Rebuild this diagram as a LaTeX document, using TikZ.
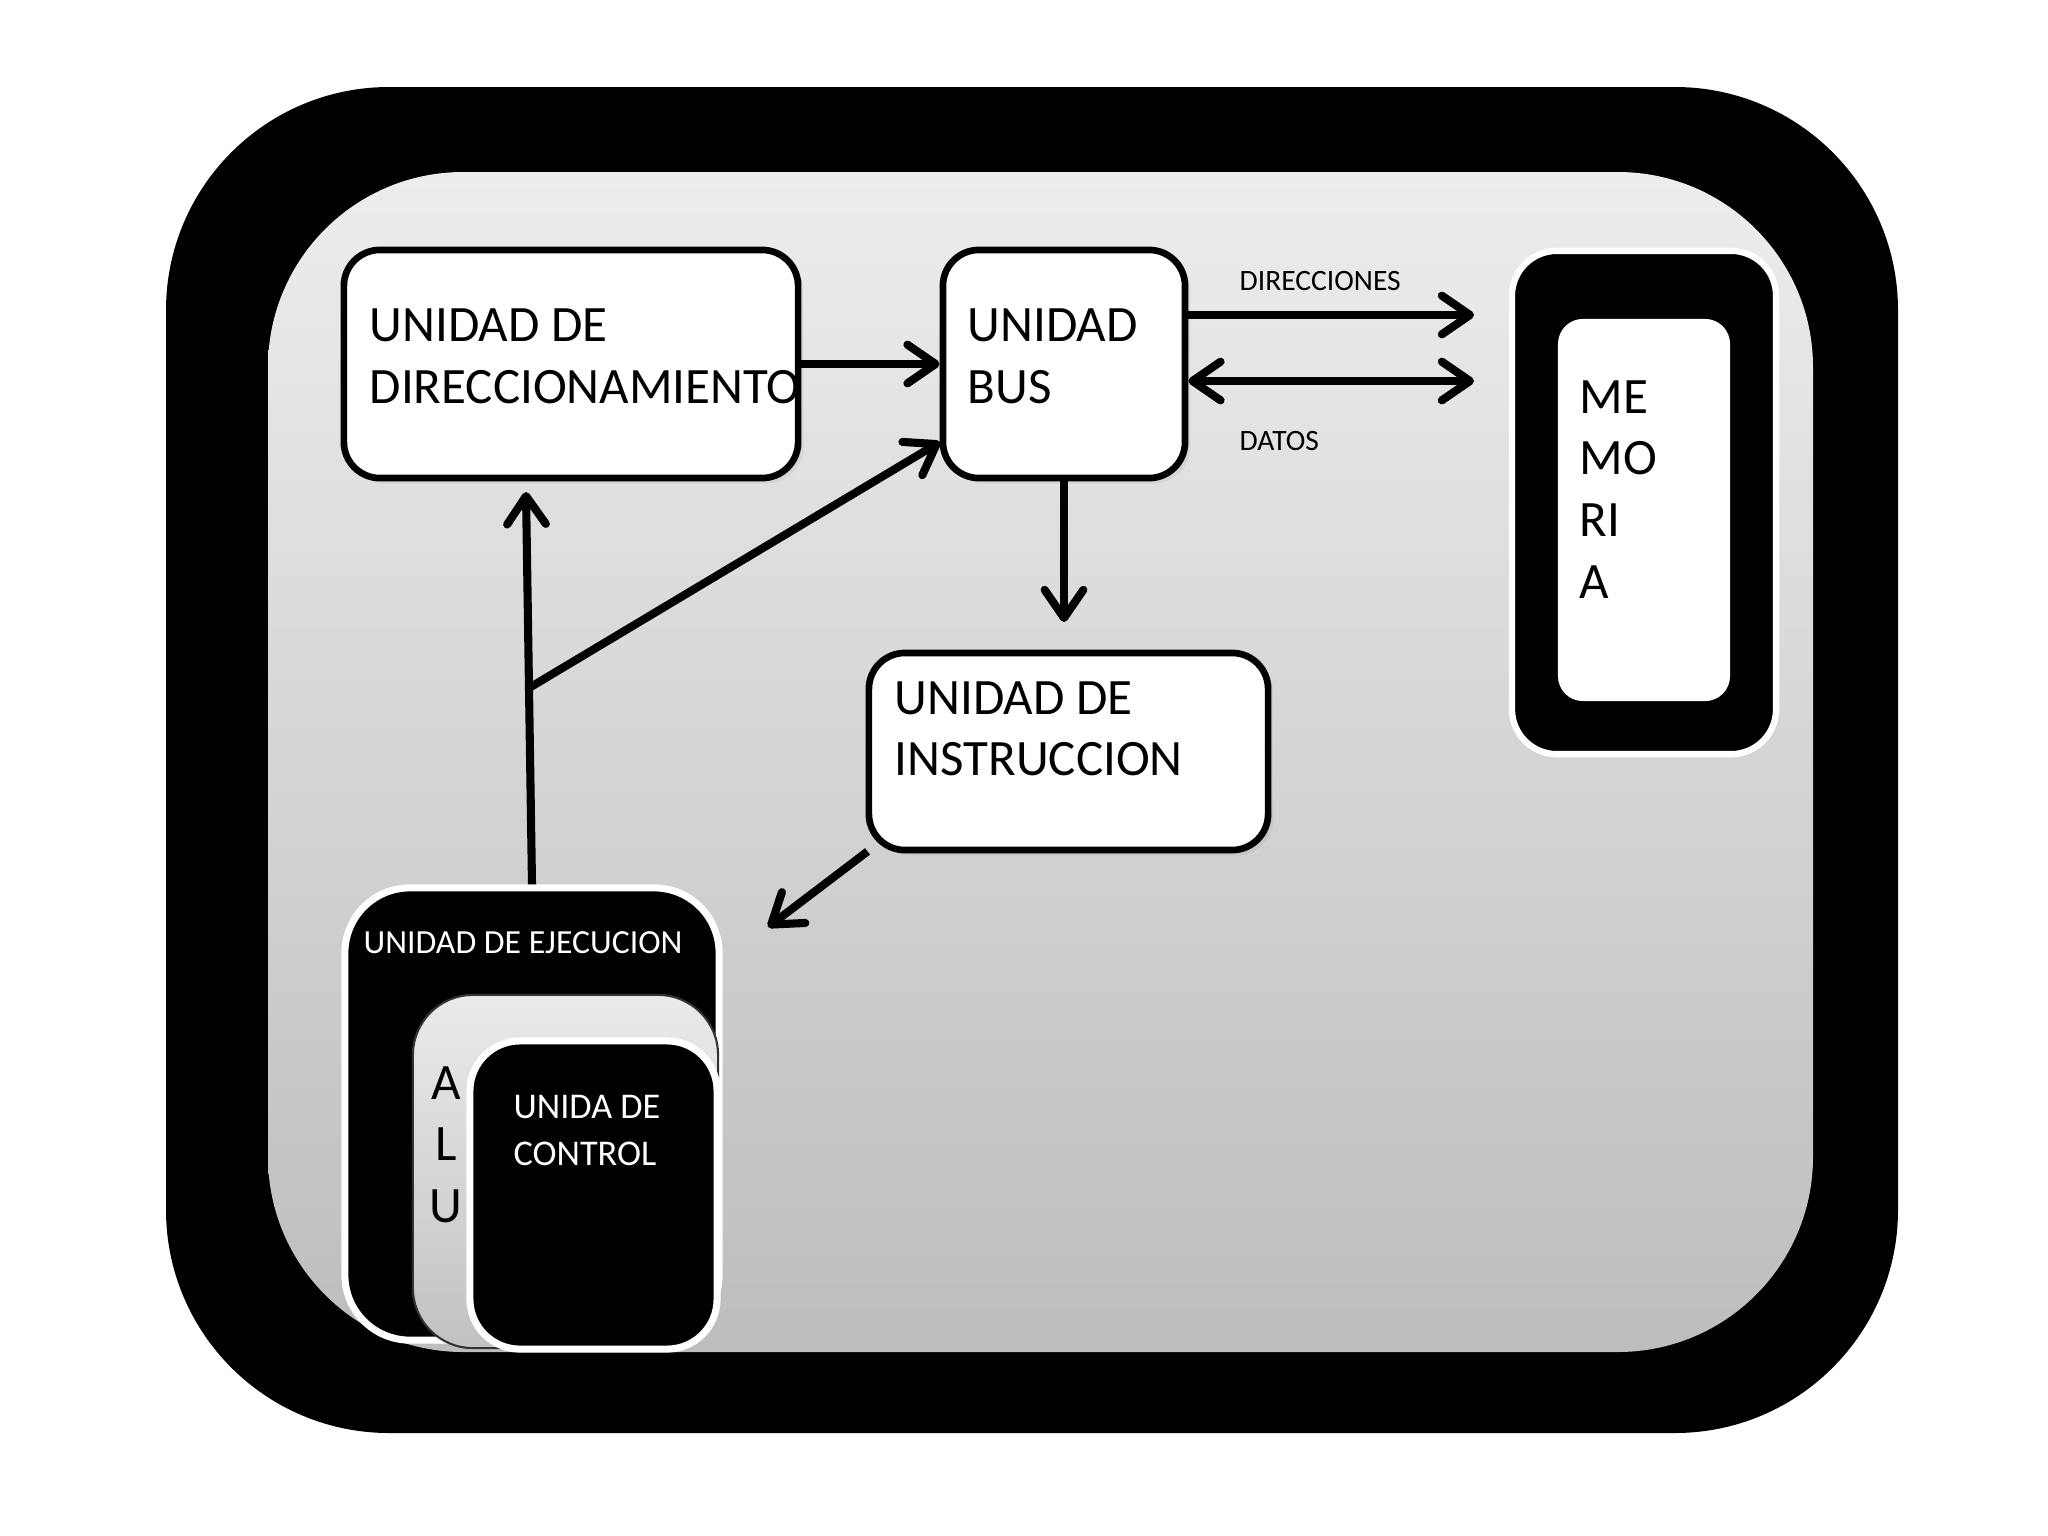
\documentclass[tikz,border=0pt]{standalone}
\usepackage{fontspec}
\setmainfont{Carlito}
\usetikzlibrary{arrows.meta, shadows}

\begin{document}
\begin{tikzpicture}[
    x=0.01cm, y=-0.01cm,
    unit/.style={rectangle, draw, line width=1.9pt, fill=white, rounded corners=0.36cm,
                 drop shadow={opacity=0.12, shadow xshift=1.5pt, shadow yshift=-1.5pt}},
    darkunit/.style={rectangle, draw=white, line width=2pt, fill=black},
    txt/.style={inner sep=0pt, anchor=base west, align=left, font=\fontsize{14.5}{17.35}\selectfont},
    small/.style={inner sep=0pt, anchor=base west, font=\fontsize{8.4}{10}\selectfont},
    arrow/.style={-{Straight Barb[length=8pt, width=11pt, line cap=round, line join=round]}, line width=2.3pt},
    dblarrow/.style={{Straight Barb[length=8pt, width=11pt, line cap=round, line join=round]}-{Straight Barb[length=8pt, width=11pt, line cap=round, line join=round]}, line width=2.3pt}
]
    \useasboundingbox (0,0) rectangle (2048,1536);

    % Frame
    \fill[black, rounded corners=2.23cm] (166,87) rectangle (1898,1433);
    \shade[top color=black!7, bottom color=black!26, rounded corners=1.95cm] (268,172) rectangle (1813,1352);

    % Units
    \node[unit, minimum width=4.54cm, minimum height=2.28cm] (direc) at (571,364) {};
    \node[unit, minimum width=2.42cm, minimum height=2.28cm] (bus) at (1064,364) {};
    \node[unit, minimum width=3.99cm, minimum height=1.97cm] (instr) at (1068.5,751.5) {};
    \node[darkunit, rounded corners=0.45cm, line width=1.8pt, minimum width=2.64cm, minimum height=5.03cm] (mem) at (1644,502.5) {};
    \node[rectangle, fill=white, rounded corners=0.25cm, minimum width=1.72cm, minimum height=3.82cm] (memin) at (1644,510) {};

    % Texts (base = last line)
    \node[txt] (directxt) at (369,403) {UNIDAD DE\\DIRECCIONAMIENTO};
    \node[txt] (bustxt) at (967,403) {UNIDAD\\BUS};
    \node[txt] (instrtxt) at (894,775) {UNIDAD DE\\INSTRUCCION};
    \node[txt, font=\fontsize{14.5}{17.5}\selectfont] (memtxt) at (1579,598) {ME\\MO\\RI\\A};
    \node[small] (dirlbl) at (1239,290) {DIRECCIONES};
    \node[small] (datlbl) at (1239,450) {DATOS};

    % Free ends
    \coordinate (dirtip) at (1474,315);
    \coordinate (dattip) at (1474,381);
    \coordinate (instrtip) at (1064,622);
    \coordinate (exectip) at (768,927);
    \coordinate (directip) at (526,492);
    \coordinate (fork) at (529,688);
    \coordinate (bustip) at (940,442);

    % Flow arrows
    \draw[arrow] (direc) -- (bus);
    \draw[arrow] (bus.east |- dirtip) -- (dirtip);
    \draw[dblarrow] (bus.east |- dattip) -- (dattip);
    \draw[arrow] (bus) -- (instrtip);
    \draw[arrow] ([xshift=0.02cm, yshift=0.02cm]instr.south west) -- (exectip);
    \draw[arrow] (fork) -- (bustip);

    % Execution unit
    \node[darkunit, rounded corners=0.65cm, minimum width=3.74cm, minimum height=4.52cm] (ejec) at (532,1114) {};
    \draw[arrow] (ejec.north) -- (directip);
    \node[rectangle, rounded corners=0.6cm, top color=black!8, bottom color=black!24, draw=black!80, line width=0.6pt,
          minimum width=3.05cm, minimum height=3.53cm] (alu) at (565.5,1171.5) {};
    \node[darkunit, rounded corners=0.5cm, minimum width=2.47cm, minimum height=3.08cm] (ctrl) at (593.5,1195) {};

    \node[small, text=white, font=\fontsize{9.6}{11}\selectfont] (ejectxt) at (363,953) {UNIDAD DE EJECUCION};
    \node[txt, align=center, anchor=base, font=\fontsize{14.5}{17.4}\selectfont] (alutxt) at (446,1222) {A\\L\\U};
    \node[txt, text=white, font=\fontsize{10.3}{13.1}\selectfont] (ctrltxt) at (513,1165) {UNIDA DE\\CONTROL};
\end{tikzpicture}
\end{document}
